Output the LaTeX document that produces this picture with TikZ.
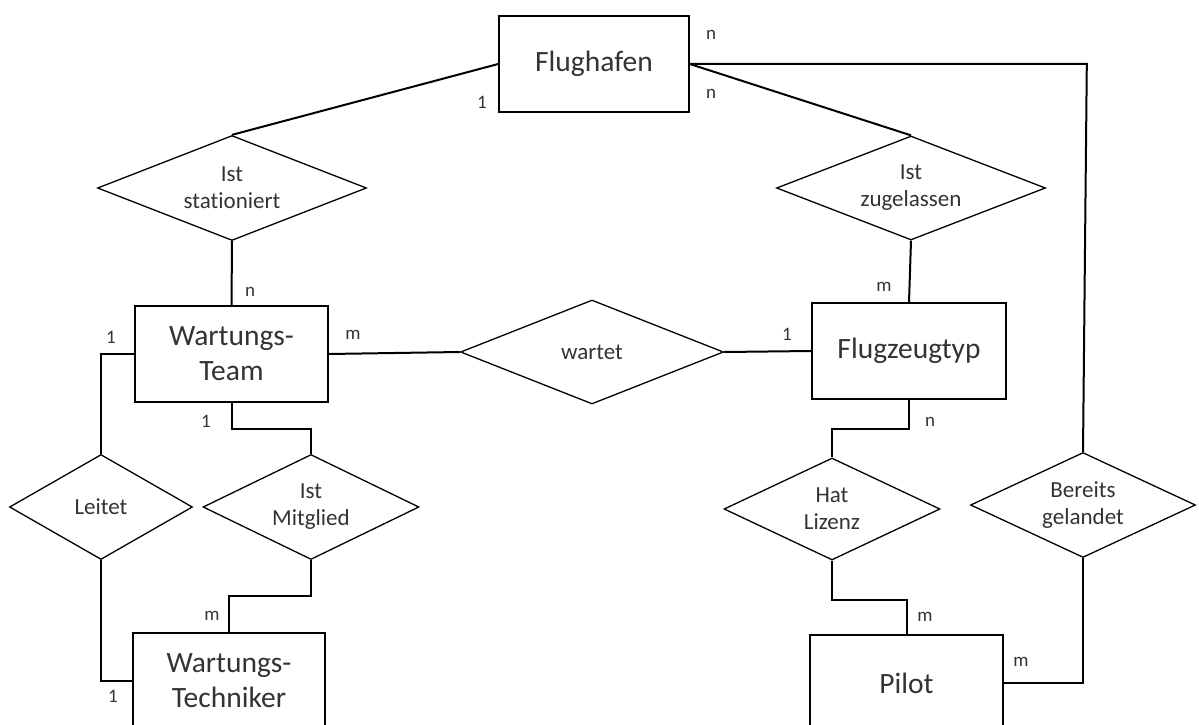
\documentclass[tikz,border=0pt]{standalone}
\usepackage{fontspec}
\setmainfont[Ligatures={NoCommon}]{Carlito}
\usetikzlibrary{shapes.geometric}
\tikzstyle{entity} = [rectangle, draw=black, line width=1.6pt, minimum width=193pt, minimum height=96pt, text centered, align=center, font=\fontsize{29.5}{35}\selectfont, text=black!80]
\tikzstyle{relation} = [diamond, aspect=2.5, draw=black, line width=1.3pt, inner sep=0pt, text centered, align=center, font=\fontsize{23}{27}\selectfont, text=black!80]
\tikzstyle{card} = [inner sep=0pt, font=\fontsize{19}{22}\selectfont, text=black!80]
\tikzstyle{link} = [line width=2pt]

\begin{document}
\begin{tikzpicture}[x=1pt,y=-1pt]

\useasboundingbox (0,0) rectangle (1199,725);

\node (fh) [entity, minimum width=190pt] at (594,64) {Flughafen};
\node (team) [entity] at (231.5,354) {Wartungs-\\Team};
\node (typ) [entity, minimum width=194pt] at (909,351) {Flugzeugtyp};
\node (tech) [entity, minimum width=192pt] at (229,681) {Wartungs-\\Techniker};
\node (pilot) [entity] at (906.5,683) {Pilot};

\node (stat) [relation, minimum width=269pt, minimum height=105pt] at (232,188) {Ist\\stationiert};
\node (zug) [relation, minimum width=269pt, minimum height=104pt] at (911,188) {Ist\\zugelassen};
\node (wartet) [relation, minimum width=263pt, minimum height=104pt] at (592,352) {wartet};
\node (leitet) [relation, aspect=1.8, minimum width=183pt, minimum height=105pt] at (101,507) {Leitet};
\node (mitglied) [relation, aspect=2.1, minimum width=216pt, minimum height=105pt] at (311,507) {Ist\\Mitglied};
\node (lizenz) [relation, aspect=2.1, minimum width=216pt, minimum height=102pt] at (832,509) {Hat\\Lizenz};
\node (gelandet) [relation, aspect=2.1, minimum width=225pt, minimum height=105pt] at (1083,505) {Bereits\\gelandet};

\draw[link] (fh.west) -- (stat.north);
\draw[link] (fh.east) -- (zug.north);
\draw[link] (fh.east) -- ++(397,0) coordinate (corner) -- (gelandet.north);
\draw[link] (stat.south) -- (team.north);
\draw[link] (zug.south) -- (typ.north);
\draw[link] (team.east) -- (wartet.west);
\draw[link] (wartet.east) -- (typ.west);
\draw[link] (team.west) -| (leitet.north);
\draw[link] (team.south) -- ++(0,26) -| (mitglied.north);
\draw[link] (leitet.south) |- (tech.west);
\draw[link] (mitglied.south) -- ++(0,36) -| (tech.north);
\draw[link] (typ.south) -- ++(0,29) -| (lizenz.north);
\draw[link] (lizenz.south) -- ++(0,39) -| (pilot.north);
\draw[link] (pilot.east) -| (gelandet.south);

% cardinalities
\node (c1) [card] at (482,102) {1};
\node (c2) [card] at (711,35) {n};
\node (c3) [card] at (711,94) {n};
\node (c4) [card] at (250,292) {n};
\node (c5) [card] at (111,337) {1};
\node (c6) [card] at (353,335) {m};
\node (c7) [card] at (206,421) {1};
\node (c8) [card] at (212,616) {m};
\node (c9) [card] at (113,696) {1};
\node (c10) [card] at (787,334) {1};
\node (c11) [card] at (884,287) {m};
\node (c12) [card] at (930,422) {n};
\node (c13) [card] at (925,617) {m};
\node (c14) [card] at (1021,662) {m};

\end{tikzpicture}
\end{document}
